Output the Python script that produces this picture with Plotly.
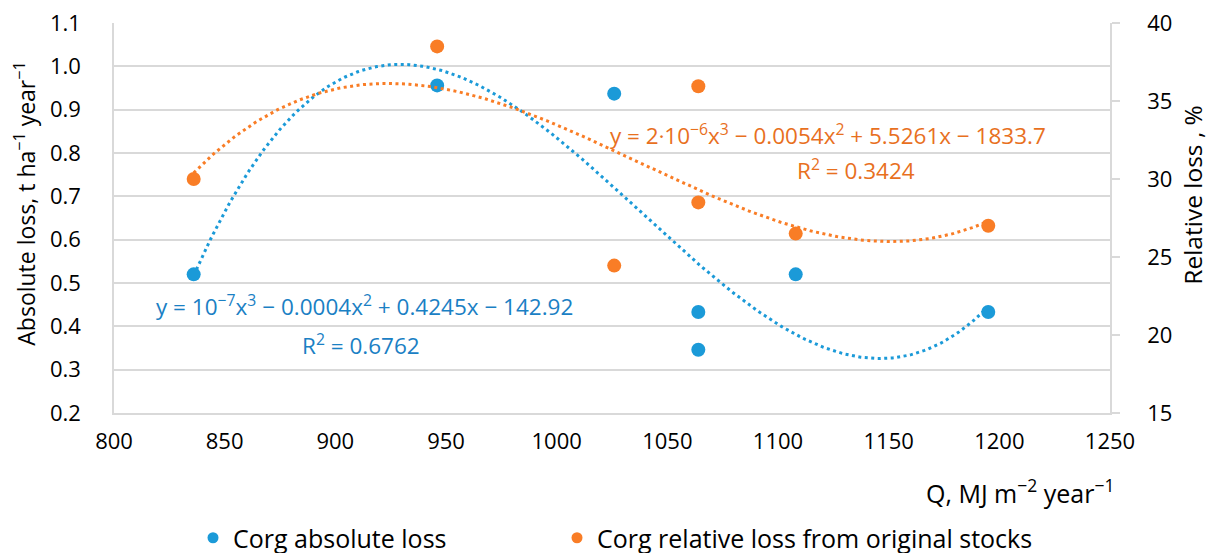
import numpy as np
import plotly.graph_objects as go

# ---- data ----
q_abs = [836, 946, 1026, 1064, 1064, 1108, 1195]
abs_loss = [0.52, 0.956, 0.937, 0.433, 0.346, 0.52, 0.433]

q_rel = [836, 946, 1026, 1064, 1064, 1108, 1195]
rel_loss = [30.0, 38.5, 24.45, 35.95, 28.5, 26.5, 27.0]

abs_name = "Corg absolute loss"
rel_name = "Corg relative loss from original stocks"
abs_eq = "y = 10<sup>−7</sup>x<sup>3</sup> − 0.0004x<sup>2</sup> + 0.4245x − 142.92"
abs_r2 = "R<sup>2</sup> = 0.6762"
rel_eq = "y = 2∙10<sup>−6</sup>x<sup>3</sup> − 0.0054x<sup>2</sup> + 5.5261x − 1833.7"
rel_r2 = "R<sup>2</sup> = 0.3424"
y_title = "Absolute loss, t ha<sup>−1</sup> year<sup>−1</sup>"
y2_title = "Relative loss , %"
x_title = "Q, MJ m<sup>−2</sup> year<sup>−1</sup>"

BLUE = "#1b9ad8"
ORANGE = "#f97d26"
BLUE_TXT = "#1a80c4"
ORANGE_TXT = "#e8701e"
GRID = "#d9d9d9"
FONT = "Open Sans"

W, H = 1212, 553
L, R, T, B = 114, 1110, 23.3, 413.3


def px(x):
    return (x - L) / (R - L)


def py(y):
    return (B - y) / (B - T)


def cx(x):
    return x / W


def cy(y):
    return 1 - y / H


# cubic trendlines (as in the spreadsheet), fitted to the data
def trend(xs, ys):
    c = np.polyfit(np.array(xs, float), np.array(ys, float), 3)
    xx = np.linspace(min(xs), max(xs), 300)
    return xx, np.polyval(c, xx)


tx_a, ty_a = trend(q_abs, abs_loss)
tx_r, ty_r = trend(q_rel, rel_loss)

fig = go.Figure()
fig.add_trace(go.Scatter(x=tx_a, y=ty_a, mode="lines", showlegend=False,
                         line=dict(color=BLUE, width=3, dash="3px,3.5px"), hoverinfo="skip"))
fig.add_trace(go.Scatter(x=tx_r, y=ty_r, mode="lines", showlegend=False, yaxis="y2",
                         line=dict(color=ORANGE, width=3, dash="3px,3.5px"), hoverinfo="skip"))
fig.add_trace(go.Scatter(x=q_abs, y=abs_loss, mode="markers", name=abs_name, showlegend=False,
                         marker=dict(color=BLUE, size=14)))
fig.add_trace(go.Scatter(x=q_rel, y=rel_loss, mode="markers", name=rel_name, yaxis="y2",
                         showlegend=False, marker=dict(color=ORANGE, size=14)))
# legend entries (smaller legend symbols as in the reference)
fig.add_trace(go.Scatter(x=[None], y=[None], mode="markers", name=abs_name, legend="legend",
                         marker=dict(color=BLUE, size=11)))
fig.add_trace(go.Scatter(x=[None], y=[None], mode="markers", name=rel_name, legend="legend2",
                         marker=dict(color=ORANGE, size=11)))

tickfont = dict(family=FONT, size=22, color="#000000")
legfont = dict(family=FONT, size=25, color="#000000")

fig.update_layout(
    width=W, height=H,
    margin=dict(l=L, r=W - R, t=T, b=H - B, pad=0),
    paper_bgcolor="white", plot_bgcolor="white",
    font=dict(family=FONT, size=22, color="#000000"),
    xaxis=dict(range=[800, 1250], dtick=50, showgrid=False, zeroline=False,
               showline=True, linecolor=GRID, linewidth=1.5, ticks="",
               tickfont=tickfont, ticklabelstandoff=8, automargin=False),
    yaxis=dict(range=[0.2, 1.1], dtick=0.1, tickformat=".1f", showgrid=True,
               gridcolor=GRID, gridwidth=1.5, zeroline=False, showline=True,
               linecolor=GRID, linewidth=1.5, ticks="", tickfont=tickfont,
               ticklabelstandoff=27, automargin=False),
    yaxis2=dict(range=[15, 40], dtick=5, overlaying="y", side="right", showgrid=False,
                zeroline=False, showline=True, linecolor=GRID, linewidth=1.5,
                ticks="outside", ticklen=8, tickcolor=GRID, tickwidth=1.5,
                tickfont=tickfont, ticklabelstandoff=23, automargin=False),
    legend=dict(orientation="h", xref="container", yref="container",
                x=cx(193), xanchor="left", y=cy(538), yanchor="middle",
                font=legfont, itemwidth=30, bgcolor="rgba(0,0,0,0)"),
    legend2=dict(orientation="h", xref="container", yref="container",
                 x=cx(557), xanchor="left", y=cy(538), yanchor="middle",
                 font=legfont, itemwidth=30, bgcolor="rgba(0,0,0,0)"),
    showlegend=True,
)

ann = []
ann.append(dict(text=abs_eq, x=px(364), y=py(306), font=dict(color=BLUE_TXT, size=22.5)))
ann.append(dict(text=abs_r2, x=px(361), y=py(345), font=dict(color=BLUE_TXT, size=22.5)))
ann.append(dict(text=rel_eq, x=px(828), y=py(135), font=dict(color=ORANGE_TXT, size=22.5)))
ann.append(dict(text=rel_r2, x=px(856), y=py(170), font=dict(color=ORANGE_TXT, size=22.5)))
ann.append(dict(text=y_title, x=px(25), y=py(204), textangle=-90,
                font=dict(color="#000000", size=23)))
ann.append(dict(text=y2_title, x=px(1193), y=py(195), textangle=-90,
                font=dict(color="#000000", size=24.5)))
ann.append(dict(text=x_title, x=px(1020), y=py(492),
                font=dict(color="#000000", size=25)))
for a in ann:
    a.update(xref="paper", yref="paper", showarrow=False, xanchor="center", yanchor="middle")
    a["font"]["family"] = FONT
fig.update_layout(annotations=ann)

fig.write_html("out.html", config={"displayModeBar": False},
               post_script="document.body.style.margin='0';document.body.style.padding='0';")
